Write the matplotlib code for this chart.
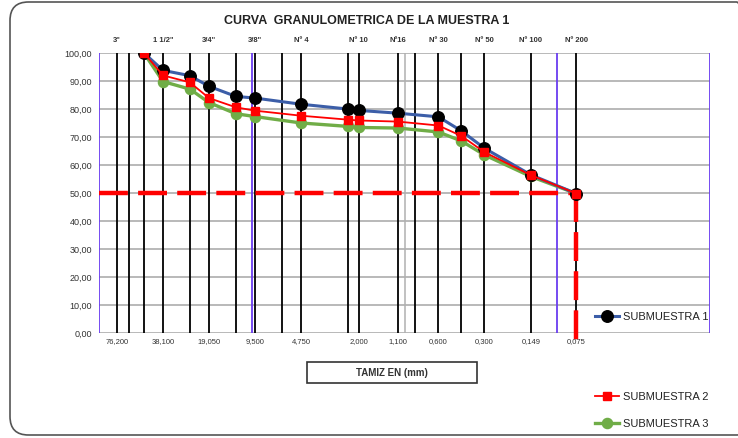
import matplotlib
matplotlib.use("Agg")
import matplotlib.pyplot as plt
from matplotlib.patches import FancyBboxPatch, Rectangle

# Sieve openings (mm) where each submuestra was measured
sieve_mm = [50.8, 38.1, 25.4, 19.05, 12.7, 9.5, 4.75, 2.36, 2.0, 1.1, 0.6, 0.425, 0.3, 0.149, 0.075]
sub1 = [100.0, 93.8, 91.9, 88.1, 84.5, 83.9, 81.7, 80.0, 79.5, 78.5, 77.2, 72.2, 66.0, 56.5, 49.8]
sub2 = [100.0, 92.0, 89.5, 83.9, 80.6, 79.4, 77.6, 76.2, 75.9, 75.5, 74.1, 70.4, 64.6, 56.4, 49.8]
sub3 = [100.0, 89.8, 87.1, 82.3, 78.3, 77.3, 75.0, 73.8, 73.4, 73.2, 71.8, 68.6, 63.6, 55.9, 49.8]

# Vertical reference lines at standard sieve sizes
sieve_lines = [76.2, 63.5, 50.8, 38.1, 25.4, 19.05, 12.7, 9.5, 6.35, 4.75, 2.36, 2.0,
               1.1, 0.85, 0.6, 0.425, 0.3, 0.149, 0.075]
decade_lines = [100, 10, 0.1, 0.01]

# Labelled sieves (top names, bottom openings)
label_mm = [76.2, 38.1, 19.05, 9.5, 4.75, 2.0, 1.1, 0.6, 0.3, 0.149, 0.075]
top_labels = ['3"', '1 1/2"', '3/4"', '3/8"', 'Nº 4', 'Nº 10', 'Nº16', 'Nº 30', 'Nº 50', 'Nº 100', 'Nº 200']
bottom_labels = ['76,200', '38,100', '19,050', '9,500', '4,750', '2,000', '1,100', '0,600', '0,300', '0,149', '0,075']

d60_pass = 50.0
d_fino = 0.075

plt.rcParams['font.family'] = ['Liberation Sans', 'DejaVu Sans']

W, H = 738, 438
fig = plt.figure(figsize=(W / 100, H / 100), dpi=100)
fig.patch.set_facecolor('white')

# outer rounded frame (right edge runs off the picture)
frame = FancyBboxPatch((10 / W, 3 / H), 745 / W, 433 / H,
                       boxstyle="round,pad=0,rounding_size=0.025",
                       transform=fig.transFigure, fill=False,
                       edgecolor='#555555', lw=1.2, mutation_aspect=W / H)
fig.patches.append(frame)

ax = fig.add_axes([99 / W, 1 - 333 / H, 611 / W, 280 / H])
ax.set_xscale('log')
ax.set_xlim(100, 0.01)
ax.set_ylim(0, 100)

for s in ax.spines.values():
    s.set_visible(False)
ax.tick_params(length=0)
ax.set_xticks([])
ax.set_xticks([], minor=True)
ax.set_yticks(range(0, 101, 10))
ax.set_yticklabels([f'{v},00' for v in range(0, 101, 10)], fontsize=6.5, color='#333333')
ax.tick_params(axis='y', pad=5)

for v in range(0, 101, 10):
    ax.axhline(v, color='#a6a6a6', lw=1.1, zorder=1)
for d in sieve_lines:
    ax.axvline(d, color='black', lw=1.3, zorder=1)
for d in decade_lines:
    ax.axvline(d, color='#6a3df0', lw=1.3, zorder=1)
ax.axvline(1.0, color='#b0b0b0', lw=1.1, zorder=1)

# reference dashes at 50 %
ax.plot([100, d_fino], [d60_pass, d60_pass], color='#ff0000', lw=3.2,
        dashes=(6.5, 2.3), zorder=2)
ax.plot([d_fino, d_fino], [d60_pass, -2.5], color='#ff0000', lw=3.2,
        dashes=(6.5, 2.3), zorder=2, clip_on=False)

l1, = ax.plot(sieve_mm, sub1, color='#3c5ea8', lw=2.2, marker='o', ms=8.3,
              mfc='black', mec='black', zorder=5, label='SUBMUESTRA 1')
l2, = ax.plot(sieve_mm, sub2, color='#ff0000', lw=1.3, marker='s', ms=6.0,
              mfc='#ff0000', mec='#ff0000', zorder=6, label='SUBMUESTRA 2')
l3, = ax.plot(sieve_mm, sub3, color='#70ad47', lw=2.4, marker='o', ms=7.3,
              mfc='#70ad47', mec='#70ad47', zorder=4, label='SUBMUESTRA 3')

tr = ax.get_xaxis_transform()
for d, t in zip(label_mm, top_labels):
    ax.text(d, 1.045, t, transform=tr, ha='center', va='center',
            fontsize=5.5, fontweight='bold', color='#333333')
for d, t in zip(label_mm, bottom_labels):
    ax.text(d, -0.03, t, transform=tr, ha='center', va='center',
            fontsize=5.5, color='#333333')

fig.text(367 / W, 1 - 21 / H, 'CURVA  GRANULOMETRICA DE LA MUESTRA 1',
         ha='center', va='center', fontsize=9, fontweight='bold', color='#222222')

box = Rectangle((307 / W, 1 - 383 / H), 170 / W, 21 / H, transform=fig.transFigure,
                fill=False, edgecolor='#333333', lw=1.2)
fig.patches.append(box)
fig.text(392 / W, 1 - 372.5 / H, 'TAMIZ EN (mm)', ha='center', va='center',
         fontsize=7, fontweight='bold', color='#333333')

for h, y in [(l1, 317), (l2, 397), (l3, 424)]:
    fig.legend(handles=[h], loc='center left', bbox_to_anchor=(595 / W, 1 - y / H),
               frameon=False, fontsize=8, handlelength=2.2, handletextpad=0.35,
               borderpad=0, borderaxespad=0, labelcolor='#222222')

fig.savefig('out.png', dpi=100)
